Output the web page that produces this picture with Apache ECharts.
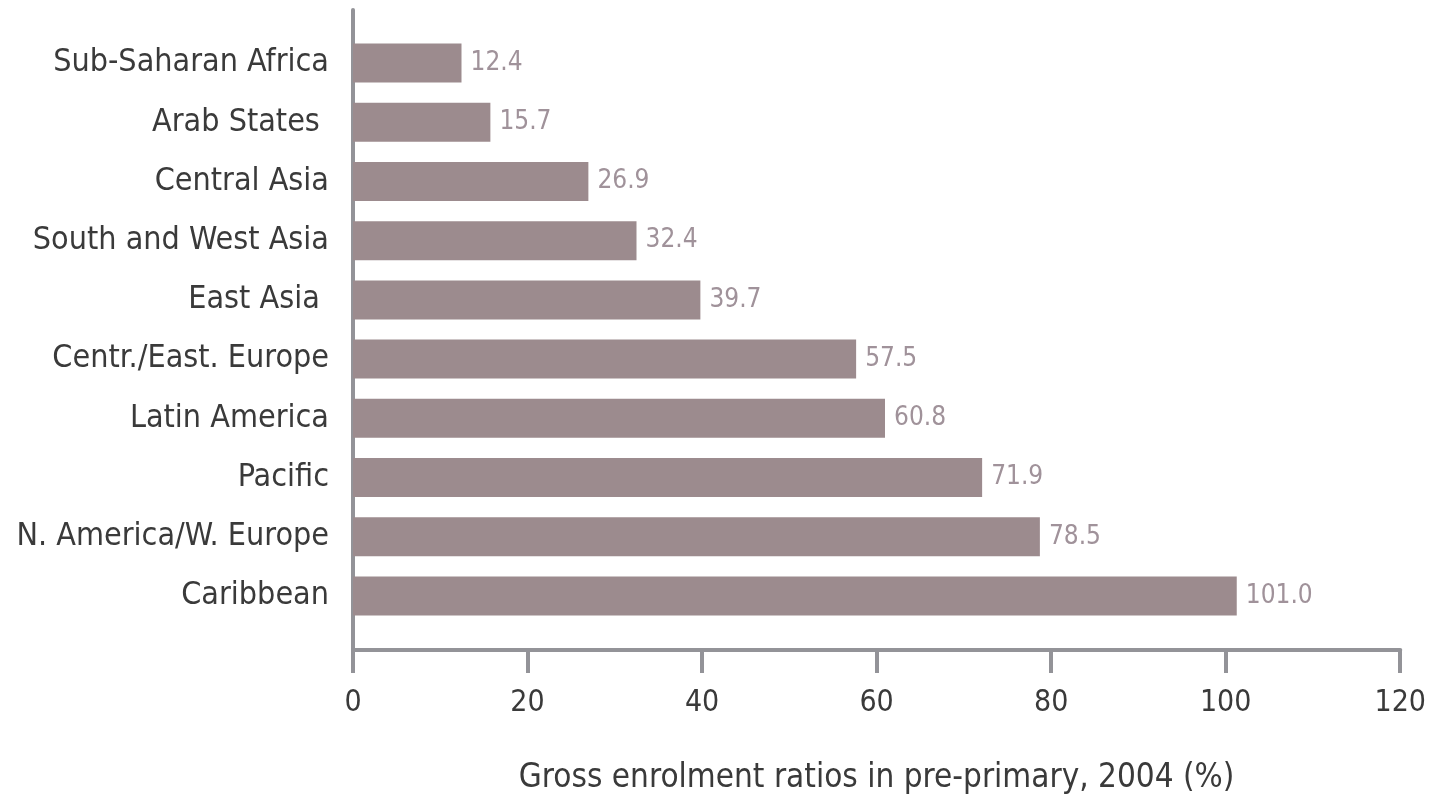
<!DOCTYPE html>
<html>
<head>
<meta charset="utf-8">
<style>
  html, body { margin: 0; padding: 0; background: #ffffff; }
  #chart { width: 1429px; height: 800px; }
</style>
<script src="https://cdn.jsdelivr.net/npm/echarts@6/dist/echarts.min.js"></script>
</head>
<body>
<div id="chart"></div>
<script>
// Regions, listed top to bottom
const regions = [
  'Sub-Saharan Africa',
  'Arab States ',
  'Central Asia',
  'South and West Asia',
  'East Asia ',
  'Centr./East. Europe',
  'Latin America',
  'Pacific',
  'N. America/W. Europe',
  'Caribbean'
];

// Gross enrolment ratio in pre-primary education, 2004 (%)
const ratios = [12.4, 15.7, 26.9, 32.4, 39.7, 57.5, 60.8, 71.9, 78.5, 101.0];

const xTicks = [0, 20, 40, 60, 80, 100, 120];
const axisTitle = 'Gross enrolment ratios in pre-primary, 2004 (%)';

const FONT = "'Liberation Sans Narrow', 'DejaVu Sans Condensed', sans-serif";
const AXIS_GREY = '#939398';
const TEXT = '#3a3a3a';

const xMin = xTicks[0];
const xMax = xTicks[xTicks.length - 1];
const xStep = xTicks[1] - xTicks[0];

const chart = echarts.init(document.getElementById('chart'), null, { renderer: 'canvas' });

chart.setOption({
  animation: false,
  backgroundColor: '#ffffff',
  grid: [
    // plotting band for the bars
    { left: 353, right: 26, top: 33.4, bottom: 174.4, containLabel: false },
    // frame carrying the axis lines, ticks and the axis title
    { left: 353, right: 26, top: 10, bottom: 149, containLabel: false }
  ],
  xAxis: [
    {
      gridIndex: 0,
      type: 'value',
      min: xMin, max: xMax, interval: xStep,
      axisLine: { show: false },
      axisTick: { show: false },
      axisLabel: { show: false },
      splitLine: { show: false }
    },
    {
      gridIndex: 1,
      type: 'value',
      min: xMin, max: xMax, interval: xStep,
      name: axisTitle,
      nameLocation: 'middle',
      nameGap: 112,
      nameTextStyle: { fontFamily: FONT, fontSize: 33, color: TEXT },
      axisLine: { show: true, lineStyle: { color: AXIS_GREY, width: 4 } },
      axisTick: { show: true, length: 23, lineStyle: { color: AXIS_GREY, width: 4 } },
      axisLabel: { margin: 38, fontFamily: FONT, fontSize: 30, color: TEXT },
      splitLine: { show: false }
    }
  ],
  yAxis: [
    {
      gridIndex: 0,
      type: 'category',
      inverse: true,
      data: regions,
      axisLine: { show: false },
      axisTick: { show: false },
      splitLine: { show: false },
      axisLabel: { margin: 24, fontFamily: FONT, fontSize: 32, color: TEXT }
    },
    {
      gridIndex: 1,
      type: 'value',
      axisLine: { show: true, lineStyle: { color: AXIS_GREY, width: 4 } },
      axisTick: { show: false },
      axisLabel: { show: false },
      splitLine: { show: false }
    }
  ],
  series: [{
    type: 'bar',
    xAxisIndex: 0,
    yAxisIndex: 0,
    data: ratios,
    barWidth: 39,
    itemStyle: { color: '#9c8b8e' },
    label: {
      show: true,
      position: 'right',
      distance: 9,
      fontFamily: FONT,
      fontSize: 26,
      color: '#a0929a',
      formatter: (p) => p.value.toFixed(1)
    }
  }]
});
</script>
</body>
</html>
